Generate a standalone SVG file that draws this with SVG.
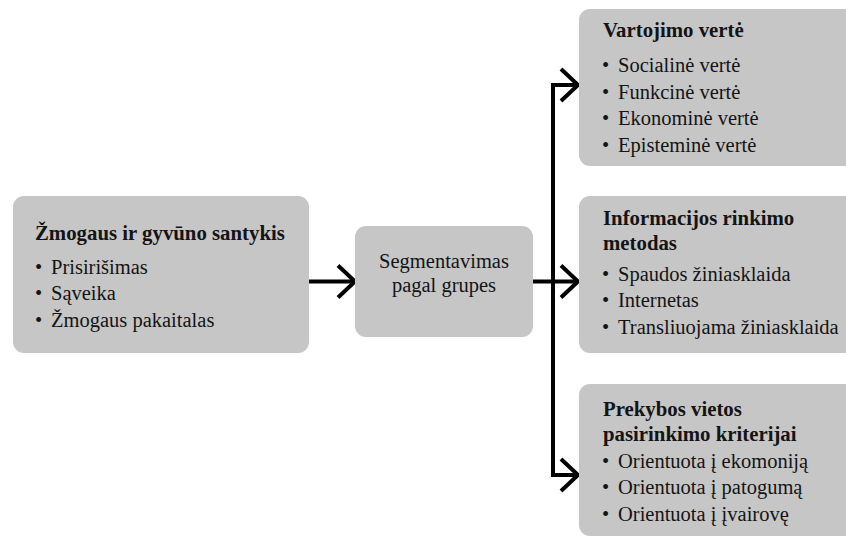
<svg xmlns="http://www.w3.org/2000/svg" width="846" height="537" viewBox="0 0 846 537">
  <style>
    .box { fill: #c6c6c6; }
    .t { font-family: 'Liberation Serif', 'Times New Roman', serif; font-size: 20.5px; fill: #141414; }
    .b { font-weight: bold; font-size: 20.8px; }
    .c { text-anchor: middle; }
    .ln { fill: none; stroke: #000; stroke-width: 4; stroke-linecap: butt; stroke-linejoin: miter; }
  </style>
  <defs>
    <marker id="chev" viewBox="-20 -20 24 40" markerWidth="24" markerHeight="40" refX="0" refY="0" markerUnits="userSpaceOnUse" orient="auto">
      <path d="M-17,-16 L0,0 L-17,16" fill="none" stroke="#000" stroke-width="4" stroke-linejoin="miter"/>
    </marker>
  </defs>

  <rect width="846" height="537" fill="#fff"/>

  <g id="connectors">
    <path class="ln" d="M309,281.5 H355" marker-end="url(#chev)"/>
    <path class="ln" d="M553,85 V475"/>
    <path class="ln" d="M551,85 H578" marker-end="url(#chev)"/>
    <path class="ln" d="M533,281.5 H578" marker-end="url(#chev)"/>
    <path class="ln" d="M551,475 H578" marker-end="url(#chev)"/>
  </g>

  <g id="relationship">
    <rect class="box" x="13" y="196" width="296" height="157" rx="11"/>
    <text class="t b" x="35" y="240">Žmogaus ir gyvūno santykis</text>
    <text class="t" x="35" y="274">•<tspan x="51">Prisirišimas</tspan></text>
    <text class="t" x="35" y="300">•<tspan x="51">Sąveika</tspan></text>
    <text class="t" x="35" y="327">•<tspan x="51">Žmogaus pakaitalas</tspan></text>
  </g>

  <g id="segmentation">
    <rect class="box" x="355" y="226" width="178" height="111" rx="11"/>
    <text class="t c" x="444" y="268">Segmentavimas</text>
    <text class="t c" x="444" y="292">pagal grupes</text>
  </g>

  <g id="use-value">
    <rect class="box" x="579" y="9" width="290" height="157" rx="11"/>
    <text class="t b" x="603" y="37">Vartojimo vertė</text>
    <text class="t" x="602" y="72">•<tspan x="618">Socialinė vertė</tspan></text>
    <text class="t" x="602" y="99">•<tspan x="618">Funkcinė vertė</tspan></text>
    <text class="t" x="602" y="125">•<tspan x="618">Ekonominė vertė</tspan></text>
    <text class="t" x="602" y="152">•<tspan x="618">Episteminė vertė</tspan></text>
  </g>

  <g id="information">
    <rect class="box" x="579" y="196" width="290" height="157" rx="11"/>
    <text class="t b" x="603" y="225">Informacijos rinkimo</text>
    <text class="t b" x="603" y="250">metodas</text>
    <text class="t" x="602" y="281">•<tspan x="618">Spaudos žiniasklaida</tspan></text>
    <text class="t" x="602" y="307">•<tspan x="618">Internetas</tspan></text>
    <text class="t" x="602" y="334">•<tspan x="618">Transliuojama žiniasklaida</tspan></text>
  </g>

  <g id="store-choice">
    <rect class="box" x="579" y="384" width="290" height="152" rx="11"/>
    <text class="t b" x="603" y="416">Prekybos vietos</text>
    <text class="t b" x="603" y="441">pasirinkimo kriterijai</text>
    <text class="t" x="602" y="468">•<tspan x="618">Orientuota į ekomoniją</tspan></text>
    <text class="t" x="602" y="494">•<tspan x="618">Orientuota į patogumą</tspan></text>
    <text class="t" x="602" y="521">•<tspan x="618">Orientuota į įvairovę</tspan></text>
  </g>
</svg>
